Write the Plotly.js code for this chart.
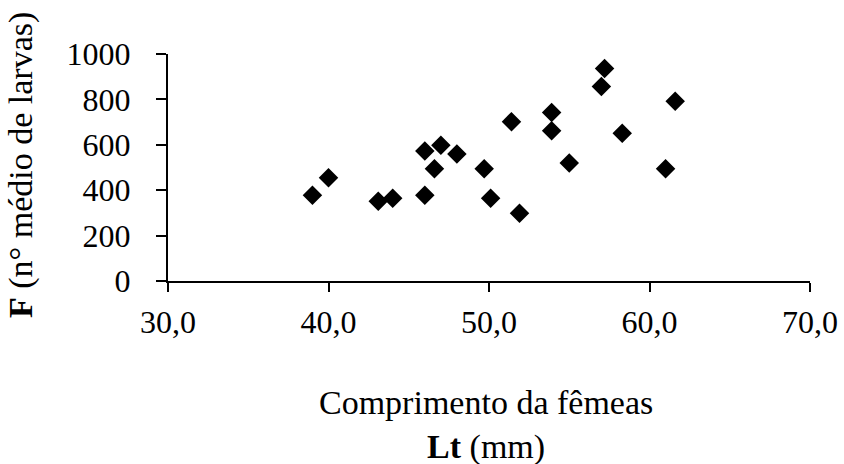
<!DOCTYPE html>
<html>
<head>
<meta charset="utf-8">
<script src="https://cdn.plot.ly/plotly-3.0.1.min.js"></script>
<style>
html,body{margin:0;padding:0;background:#fff;}
#chart{width:844px;height:464px;}
</style>
</head>
<body>
<div id="chart"></div>
<script>
// Comprimento (Lt, mm) das fêmeas
const comprimento = [39.0, 40.0, 43.1, 44.0, 46.0, 46.0, 46.6, 47.0, 48.0, 49.7, 50.1,
                     51.4, 51.9, 53.9, 53.9, 55.0, 57.2, 57.0, 58.3, 61.0, 61.6];
// F (nº médio de larvas)
const fecundidade = [378, 455, 351, 364, 378, 573, 495, 598, 560, 495, 364,
                     702, 299, 742, 662, 520, 936, 857, 651, 495, 792];
const xTickVals = [30, 40, 50, 60, 70];
const xTickLabels = ["30,0", "40,0", "50,0", "60,0", "70,0"];
const yTickVals = [0, 200, 400, 600, 800, 1000];
const yTickLabels = ["0", "200", "400", "600", "800", "1000"];

const FONT = "Liberation Serif, Times New Roman, serif";

const trace = {
  type: "scatter",
  mode: "markers",
  x: comprimento,
  y: fecundidade,
  marker: {symbol: "diamond", size: 15, color: "#000000", line: {width: 0}},
  hoverinfo: "x+y"
};

const W = 844, H = 464;
const L = 168, R = 34, T = 54, B = 183;
const pw = W - L - R, ph = H - T - B;

const layout = {
  width: W, height: H,
  margin: {l: L, r: R, t: T, b: B, pad: 0},
  paper_bgcolor: "#ffffff",
  plot_bgcolor: "#ffffff",
  showlegend: false,
  font: {family: FONT, size: 32, color: "#000000"},
  xaxis: {
    range: [30, 70],
    tickvals: xTickVals,
    ticktext: xTickLabels,
    showgrid: false, zeroline: false,
    showline: true, linecolor: "#000", linewidth: 2,
    ticks: "outside", ticklen: 9, tickwidth: 2, tickcolor: "#000",
    ticklabelstandoff: 3,
    tickfont: {family: FONT, size: 32, color: "#000"}
  },
  yaxis: {
    range: [0, 1000],
    tickvals: yTickVals,
    ticktext: yTickLabels,
    showgrid: false, zeroline: false,
    showline: true, linecolor: "#000", linewidth: 2,
    ticks: "outside", ticklen: 10, tickwidth: 2, tickcolor: "#000",
    ticklabelstandoff: 19,
    tickfont: {family: FONT, size: 32, color: "#000"}
  },
  annotations: [
    {
      xref: "paper", yref: "paper",
      x: (21 - L) / pw, y: (T + ph - 165) / ph,
      xanchor: "center", yanchor: "middle",
      textangle: -90,
      showarrow: false,
      text: "<b>F</b> (n° médio de larvas)",
      font: {family: FONT, size: 34, color: "#000"}
    },
    {
      xref: "paper", yref: "paper",
      x: (486 - L) / pw, y: -(425 - (T + ph)) / ph,
      xanchor: "center", yanchor: "middle",
      showarrow: false,
      text: "Comprimento da fêmeas<br><b>Lt</b> (mm)",
      font: {family: FONT, size: 34, color: "#000"}
    }
  ]
};

Plotly.newPlot("chart", [trace], layout, {displayModeBar: false, staticPlot: true});
</script>
</body>
</html>
